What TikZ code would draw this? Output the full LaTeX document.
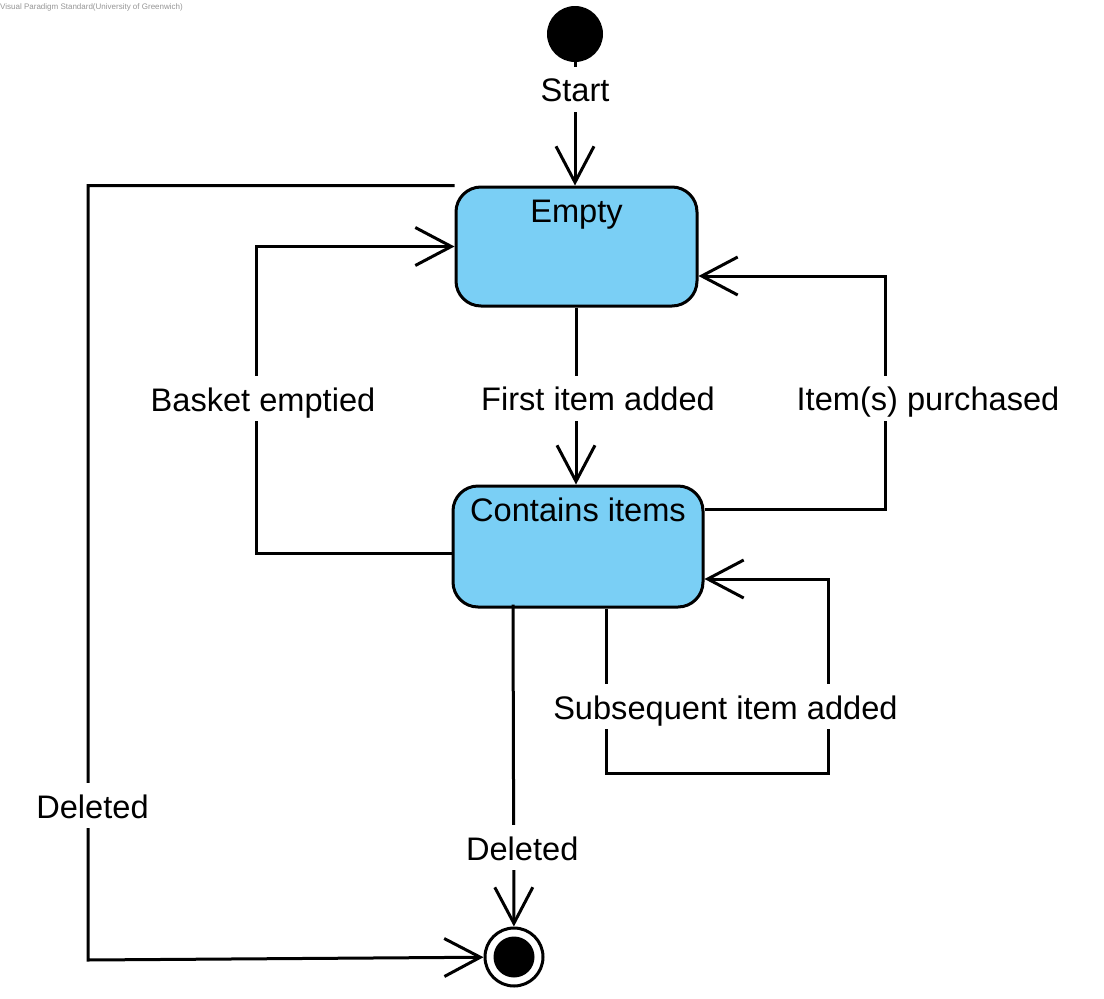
\documentclass[tikz,border=0pt]{standalone}
\usepackage{fontspec}
\setmainfont{Liberation Sans}
\usetikzlibrary{arrows.meta}
\definecolor{statefill}{RGB}{122,207,245}
\definecolor{wmgray}{RGB}{150,150,150}
\begin{document}
\begin{tikzpicture}[x=1pt,y=-1pt,
  bigfont/.style={font=\fontsize{32.6}{38}\selectfont},
  conn/.style={line width=3pt, line join=miter, -{Straight Barb[length=36pt,width=38pt]}},
  lbl/.style={bigfont, fill=white, anchor=base, inner xsep=3pt, inner ysep=3pt, text height=32pt, text depth=7pt},
  statebox/.style={draw, line width=3pt, fill=statefill, rounded corners=25pt, bigfont, inner ysep=0pt, inner xsep=0pt, text height=35pt},
  initstate/.style={circle, fill=black, minimum size=56pt, inner sep=0pt},
  finalstate/.style={circle, draw, line width=3pt, fill=white, minimum size=58pt, inner sep=0pt,
    path picture={\fill[black] (path picture bounding box.center) circle (20.5pt);}}
]
\useasboundingbox[fill=white] (0,0) rectangle (1104,999);

\node[anchor=west, text=wmgray, font=\fontsize{8}{9}\selectfont, inner sep=0pt] (wm) at (0,7) {Visual Paradigm Standard(University of Greenwich)};

\node[initstate] (init) at (575,34) {};
\node[statebox, minimum width=241pt, text depth=84pt] (empty) at (576.5,246.5) {Empty};
\node[statebox, minimum width=250pt, text depth=86pt] (contains) at (578,546.5) {Contains items};
\node[finalstate] (final) at (514,957) {};

% Start
\draw[conn] (init) -- node[lbl, pos=0.32]{Start} (init |- empty.north);

% Deleted (left)
\coordinate (dbot) at (88,960);
\coordinate (dtop) at (empty.north west -| dbot);
\draw[conn] (empty.north west) -- (dtop) -- node[lbl, pos=0.817, xshift=4.5pt]{Deleted} (dbot) -- (final);

% Basket emptied
\coordinate (be1) at (256,553);
\coordinate (be2) at (256,246.5);
\draw[conn] ([yshift=-6.5pt]contains.west) -- (be1) -- node[lbl, pos=0.463, xshift=7pt]{Basket emptied} (be2) -- (empty.west);

% First item added
\draw[conn] ([xshift=-0.5pt]empty.south) -- node[lbl, pos=0.583, xshift=22pt]{First item added} ([xshift=-2pt]contains.north);

% Item(s) purchased
\coordinate (ip1) at (885,509);
\coordinate (ip2) at (885,276);
\draw[conn] ([yshift=37.5pt]contains.east) -- (ip1) -- node[lbl, pos=0.421, xshift=43pt]{Item(s) purchased} (ip2) -- ([yshift=-29.5pt]empty.east);

% Subsequent item added
\coordinate (si1) at (606,773);
\coordinate (si2) at (828,773);
\coordinate (si3) at (828,579);
\draw[conn] ([xshift=28pt]contains.south) -- (si1) -- node[lbl, pos=0.538, yshift=54pt]{Subsequent item added} (si2) -- (si3) -- ([yshift=-32.5pt]contains.east);

% Deleted (bottom)
\draw[conn] ([xshift=-65pt,yshift=4pt]contains.south) -- node[lbl, pos=0.794, xshift=8.5pt]{Deleted} (final);
\end{tikzpicture}
\end{document}
